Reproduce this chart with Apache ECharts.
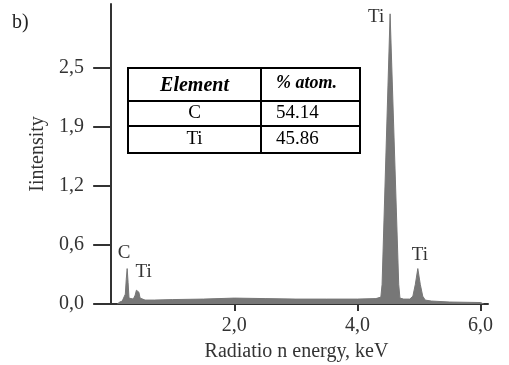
<!DOCTYPE html>
<html>
<head>
<meta charset="utf-8">
<script src="https://cdn.jsdelivr.net/npm/echarts@6/dist/echarts.min.js"></script>
<style>
  html, body { margin: 0; padding: 0; background: #fff; }
  #chart { width: 509px; height: 365px; }
</style>
</head>
<body>
<div id="chart"></div>
<script>
// EDS spectrum
var energy = [0.10, 0.14, 0.18, 0.21, 0.23, 0.245, 0.26, 0.275, 0.29, 0.32, 0.36, 0.39, 0.41, 0.43, 0.45, 0.47, 0.50, 0.55,
    0.70, 1.00, 1.50, 2.00, 2.50, 3.00, 3.50, 4.00, 4.30, 4.38, 4.40, 4.53, 4.67, 4.69, 4.75, 4.85, 4.90, 4.94, 4.98,
    5.02, 5.06, 5.10, 5.20, 5.50, 6.00, 6.05];
var intensity = [0.00, 0.02, 0.03, 0.05, 0.10, 0.25, 0.36, 0.22, 0.06, 0.04, 0.05, 0.09, 0.14, 0.16, 0.12, 0.06, 0.045, 0.04,
    0.04, 0.045, 0.05, 0.06, 0.055, 0.05, 0.05, 0.05, 0.055, 0.07, 0.20, 2.95, 0.20, 0.06, 0.05, 0.05, 0.08, 0.20, 0.36,
    0.20, 0.08, 0.04, 0.03, 0.02, 0.015, 0.00];

var yTicks = [0, 0.6, 1.2, 1.8, 2.4];
var yTickLabels = ['0,0', '0,6', '1,2', '1,9', '2,5'];
var xTicks = [2, 4, 6];
var xTickLabels = ['2,0', '4,0', '6,0'];

// peak annotations (anchored on the peak tops)
var peakNames = ['C', 'Ti', 'Ti', 'Ti'];
var peakEnergy = [0.26, 0.43, 4.53, 4.98];
var peakHeight = [0.36, 0.16, 2.95, 0.36];
var peakOffsets = [[-3, -16], [6, -16], [-14, 3], [2, -14]];

// composition table
var tableHeader = ['Element', '% atom.'];
var tableElements = ['C', 'Ti'];
var tableAtoms = ['54.14', '45.86'];

var serif = '"Liberation Serif", "Times New Roman", serif';
var axisColor = '#333';

var points = [];
for (var i = 0; i < energy.length; i++) {
    points.push([energy[i], intensity[i]]);
}

var markData = [];
for (var k = 0; k < peakNames.length; k++) {
    markData.push({
        name: peakNames[k],
        coord: [peakEnergy[k], peakHeight[k]],
        label: { offset: peakOffsets[k] }
    });
}

// table graphic
var tX = 128, tY = 68, tW = 232, colX = 261;
var rowTops = [68, 101, 126, 153];
var tableGraphic = [];
tableGraphic.push({
    type: 'rect', shape: { x: tX, y: tY, width: tW, height: rowTops[3] - tY },
    style: { fill: '#fff', stroke: '#000', lineWidth: 2 }, z: 10
});
tableGraphic.push({ type: 'line', shape: { x1: tX, y1: rowTops[1], x2: tX + tW, y2: rowTops[1] }, style: { stroke: '#000', lineWidth: 2 }, z: 11 });
tableGraphic.push({ type: 'line', shape: { x1: tX, y1: rowTops[2], x2: tX + tW, y2: rowTops[2] }, style: { stroke: '#000', lineWidth: 2 }, z: 11 });
tableGraphic.push({ type: 'line', shape: { x1: colX, y1: tY, x2: colX, y2: rowTops[3] }, style: { stroke: '#000', lineWidth: 2 }, z: 11 });
tableGraphic.push({
    type: 'text', x: (tX + colX) / 2, y: (rowTops[0] + rowTops[1]) / 2 + 1, z: 12,
    style: { text: tableHeader[0], font: 'italic bold 20px ' + serif, fill: '#000', align: 'center', verticalAlign: 'middle' }
});
tableGraphic.push({
    type: 'text', x: 276, y: (rowTops[0] + rowTops[1]) / 2 - 1, z: 12,
    style: { text: tableHeader[1], font: 'italic bold 18px ' + serif, fill: '#000', align: 'left', verticalAlign: 'middle' }
});
for (var r = 0; r < tableElements.length; r++) {
    var cy = (rowTops[r + 1] + rowTops[r + 2]) / 2;
    tableGraphic.push({
        type: 'text', x: (tX + colX) / 2, y: cy, z: 12,
        style: { text: tableElements[r], font: '19px ' + serif, fill: '#000', align: 'center', verticalAlign: 'middle' }
    });
    tableGraphic.push({
        type: 'text', x: 276, y: cy, z: 12,
        style: { text: tableAtoms[r], font: '19px ' + serif, fill: '#000', align: 'left', verticalAlign: 'middle' }
    });
}
tableGraphic.push({
    type: 'text', x: 12, y: 13,
    style: { text: 'b)', font: '20px ' + serif, fill: '#222' }
});

var chart = echarts.init(document.getElementById('chart'));
var option = {
    animation: false,
    backgroundColor: '#fff',
    grid: { left: 105, right: 21, top: 4, bottom: 61, containLabel: false, outerBoundsMode: 'none' },
    xAxis: {
        type: 'value',
        min: -0.1,
        max: 6.12,
        name: 'Radiatio n energy, keV',
        nameLocation: 'middle',
        nameGap: 38,
        nameTextStyle: { fontFamily: serif, fontSize: 20, color: '#333' },
        splitLine: { show: false },
        axisLine: { lineStyle: { color: axisColor, width: 2 } },
        axisTick: { show: true, inside: false, length: 7, customValues: xTicks, lineStyle: { color: axisColor, width: 2 } },
        axisLabel: {
            customValues: xTicks, margin: 12,
            fontFamily: serif, fontSize: 20, color: '#333',
            formatter: function (v) { return xTickLabels[xTicks.indexOf(v)]; }
        }
    },
    yAxis: {
        type: 'value',
        min: 0,
        max: 3.05,
        name: 'Iintensity',
        nameLocation: 'middle',
        nameGap: 57,
        nameRotate: 90,
        nameTextStyle: { fontFamily: serif, fontSize: 20, color: '#333' },
        splitLine: { show: false },
        axisLine: { show: true, lineStyle: { color: axisColor, width: 2 } },
        axisTick: { show: true, inside: false, length: 18, customValues: yTicks, lineStyle: { color: axisColor, width: 2 } },
        axisLabel: {
            customValues: yTicks, margin: 21,
            fontFamily: serif, fontSize: 20, color: '#333',
            formatter: function (v) { return yTickLabels[yTicks.indexOf(v)]; }
        }
    },
    series: [{
        type: 'line',
        data: points,
        showSymbol: false,
        smooth: false,
        lineStyle: { color: '#777', width: 1 },
        areaStyle: { color: '#777', opacity: 1 },
        markPoint: {
            symbol: 'circle',
            symbolSize: 0,
            label: {
                show: true, position: 'inside', formatter: '{b}',
                fontFamily: serif, fontSize: 19, color: '#333'
            },
            data: markData
        }
    }],
    graphic: tableGraphic
};
chart.setOption(option);
</script>
</body>
</html>
